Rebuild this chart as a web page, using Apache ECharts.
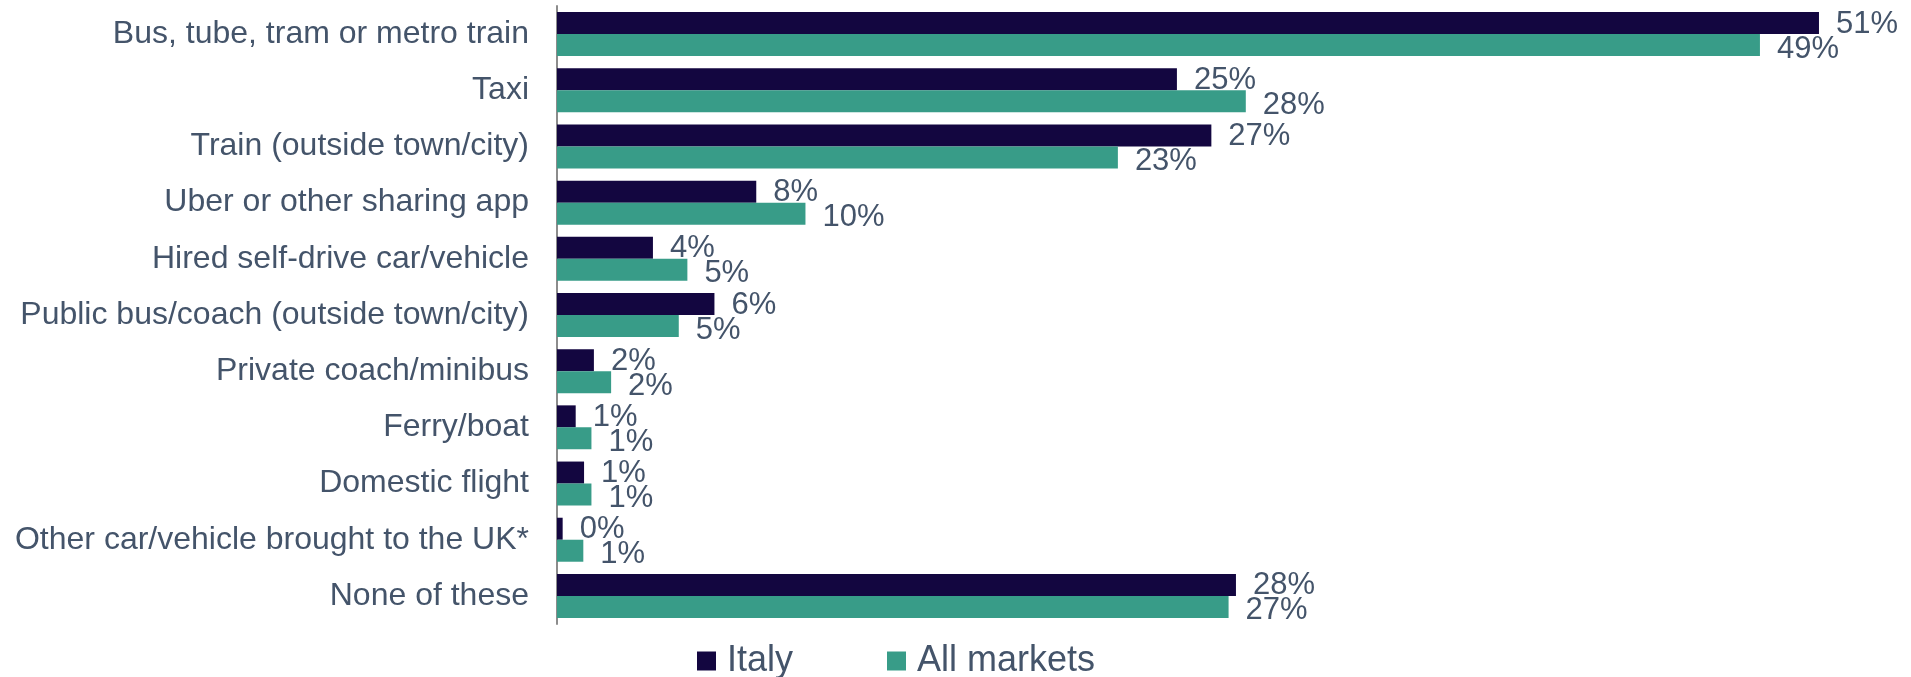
<!DOCTYPE html>
<html>
<head>
<meta charset="utf-8">
<script src="https://cdn.jsdelivr.net/npm/echarts@6/dist/echarts.min.js"></script>
<style>
  html, body { margin: 0; padding: 0; background: #ffffff; }
  #chart { width: 1911px; height: 677px; }
</style>
</head>
<body>
<div id="chart"></div>
<script>
const categories = [
  'Bus, tube, tram or metro train',
  'Taxi',
  'Train (outside town/city)',
  'Uber or other sharing app',
  'Hired self-drive car/vehicle',
  'Public bus/coach (outside town/city)',
  'Private coach/minibus',
  'Ferry/boat',
  'Domestic flight',
  'Other car/vehicle brought to the UK*',
  'None of these'
];
const seriesNames = ['Italy', 'All markets'];
const italy = [51.3, 25.2, 26.6, 8.1, 3.9, 6.4, 1.5, 0.76, 1.1, 0.23, 27.6];
const allMarkets = [48.9, 28.0, 22.8, 10.1, 5.3, 4.95, 2.2, 1.4, 1.4, 1.07, 27.3];

const FONT = '"Liberation Sans", Arial, sans-serif';
const TEXT = '#44546A';

const chart = echarts.init(document.getElementById('chart'), null, { renderer: 'canvas' });

const labelCfg = (dy) => ({
  show: true,
  position: 'right',
  distance: 17,
  offset: [0, dy],
  fontFamily: FONT,
  fontSize: 31,
  color: TEXT,
  formatter: (p) => Math.round(p.value) + '%'
});

chart.setOption({
  animation: false,
  backgroundColor: '#ffffff',
  textStyle: { fontFamily: FONT },
  grid: { left: 557, right: 1, top: 6, bottom: 53, containLabel: false },
  legend: {
    data: seriesNames,
    left: 697,
    top: 641,
    padding: 0,
    icon: 'rect',
    itemWidth: 19,
    itemHeight: 19,
    itemGap: 94,
    textStyle: { fontFamily: FONT, fontSize: 36, color: TEXT, lineHeight: 40, padding: [0, 0, 0, 6] }
  },
  xAxis: {
    type: 'value',
    min: 0,
    max: 55,
    show: false,
    splitLine: { show: false }
  },
  yAxis: {
    type: 'category',
    data: categories,
    inverse: true,
    axisLine: { show: true, lineStyle: { color: '#8C8C8C', width: 2 } },
    axisTick: { show: false },
    axisLabel: { fontFamily: FONT, fontSize: 32, color: TEXT, margin: 28 }
  },
  series: [
    {
      name: seriesNames[0],
      type: 'bar',
      data: italy,
      barWidth: 22,
      barGap: '0%',
      itemStyle: { color: '#130640' },
      label: labelCfg(1)
    },
    {
      name: seriesNames[1],
      type: 'bar',
      data: allMarkets,
      barWidth: 22,
      barGap: '0%',
      itemStyle: { color: '#389C88' },
      label: labelCfg(4)
    }
  ]
});
</script>
</body>
</html>
